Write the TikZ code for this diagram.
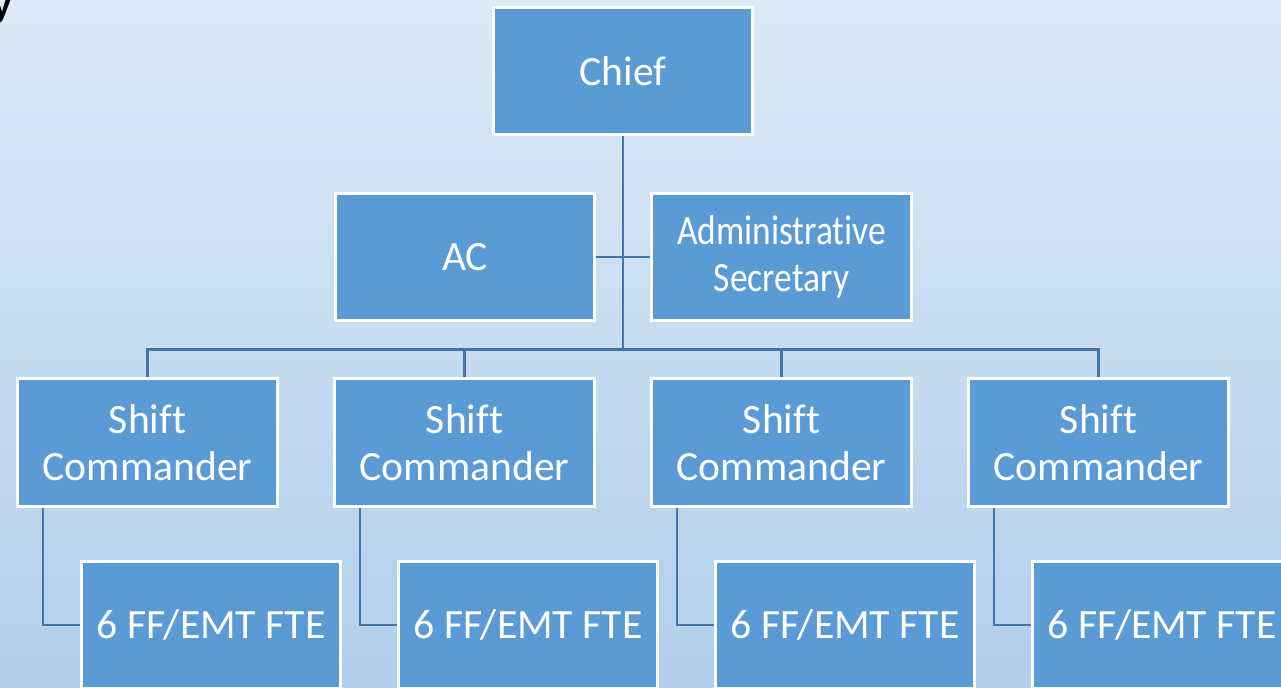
\documentclass[tikz,border=0pt]{standalone}
\usepackage{fontspec}
\setmainfont{Carlito}[Ligatures=NoCommon]
\newfontfamily\narrowfont{Carlito}[FakeStretch=0.85, Ligatures=NoCommon]
\newfontfamily\titlefont{Liberation Sans}
\usetikzlibrary{calc,backgrounds}
\definecolor{boxblue}{RGB}{91,155,213}
\definecolor{linkblue}{RGB}{68,117,166}
\definecolor{bgtop}{RGB}{221,234,247}
\definecolor{bgbottom}{RGB}{177,206,234}

\begin{document}
\begin{tikzpicture}[x=0.02cm, y=-0.02cm,
  post/.style={draw=white, line width=0.06cm, fill=boxblue, text=white,
    minimum width=5.2cm, minimum height=2.55cm, inner sep=0pt,
    font=\fontsize{23.7}{26.5}\selectfont, align=center},
  link/.style={draw=linkblue, line width=0.05cm},
]
  \useasboundingbox (0,0) rectangle (1281,688);

  % heading cut off at the left edge
  \node[font=\titlefont\bfseries\fontsize{20}{24}\selectfont, anchor=base,
    inner sep=0pt] (heading) at (2,17) {y};

  % top of the chart
  \node[post] (chief) at (623,71) {Chief};
  \node[post] (ac) at (465,257) {AC};
  \node[post, font=\narrowfont\fontsize{23.7}{26.5}\selectfont] (secretary)
    at (781.5,257) {Administrative\\Secretary};

  % shift commanders and their crews
  \foreach \i/\x in {1/147.5, 2/464.5, 3/781.5, 4/1098.5} {
    \node[post] (shift\i) at (\x,442.5) {Shift\\Commander};
    \node[post] (crew\i) at ($(\x,625)+(63.5,0)$) {6 FF/EMT FTE};
  }

  \begin{scope}[on background layer]
    \shade[top color=bgtop, bottom color=bgbottom] (0,0) rectangle (1281,688);

    \coordinate (bus) at (623,349.5);
    \draw[link] (chief.south) -- (bus);
    \draw[link] (ac.east) -- (secretary.west);
    \foreach \i in {1,...,4} {
      \draw[link] (bus) -| (shift\i.north);
      \draw[link] ($(shift\i.south west)+(27,0)$) |- (crew\i.west);
    }
  \end{scope}
\end{tikzpicture}
\end{document}
